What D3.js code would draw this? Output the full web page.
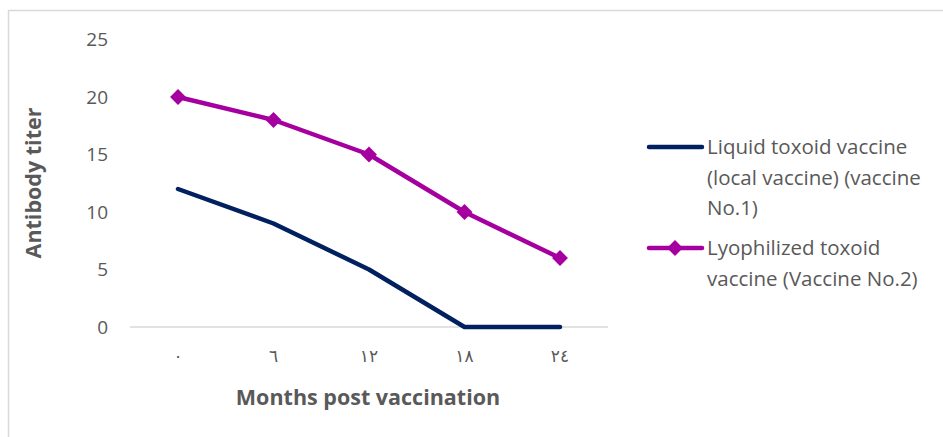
<!DOCTYPE html>
<html><head><meta charset="utf-8">
<script src="https://cdn.jsdelivr.net/npm/d3@7"></script>
<style>
body{margin:0;background:#fff;}
svg{display:block;font-family:"Open Sans","DejaVu Sans",sans-serif;}
</style></head>
<body><svg id="c" width="943" height="437"></svg>
<script>
const categories = ["٠","٦","١٢","١٨","٢٤"];
const liquidValues = [12, 9, 5, 0, 0];
const lyophilizedValues = [20, 18, 15, 10, 6];
const yTicks = [0, 5, 10, 15, 20, 25];
const seriesNames = [
  ["Liquid toxoid vaccine", "(local vaccine) (vaccine", "No.1)"],
  ["Lyophilized toxoid", "vaccine (Vaccine No.2)"]
];
const colors = ["#002060", "#A5009F"];

const svg = d3.select("#c");
svg.append("rect").attr("x",8.5).attr("y",10.5).attr("width",960).attr("height",460)
  .attr("fill","#fff").attr("stroke","#d9d9d9").attr("stroke-width",1.5);

const x = d3.scalePoint().domain(categories).range([178, 560]);
const y = d3.scaleLinear().domain([0,25]).range([327, 39.5]);

// baseline
svg.append("line").attr("x1",130).attr("x2",608).attr("y1",y(0)).attr("y2",y(0))
  .attr("stroke","#d9d9d9").attr("stroke-width",1.5);

// y ticks
svg.append("g").selectAll("text").data(yTicks).join("text")
  .attr("x",108).attr("y",d=>y(d)).attr("dy","0.35em").attr("text-anchor","end")
  .attr("font-size",19).attr("fill","#595959").text(d=>d);

// x ticks
svg.append("g").selectAll("text").data(categories).join("text")
  .attr("x",d=>x(d)).attr("y",356).attr("dy","0.35em").attr("text-anchor","middle")
  .attr("font-size",17).attr("fill","#595959").attr("letter-spacing",3)
  .attr("font-family","'DejaVu Sans',sans-serif").text(d=>d);

// axis titles
svg.append("text").attr("x",368).attr("y",397).attr("dy","0.35em").attr("text-anchor","middle")
  .attr("font-size",21.5).attr("font-weight","bold").attr("fill","#595959").text("Months post vaccination");
svg.append("text").attr("transform","translate(33,183) rotate(-90)").attr("dy","0.35em").attr("text-anchor","middle")
  .attr("font-size",21.5).attr("font-weight","bold").attr("fill","#595959").text("Antibody titer");

const line = d3.line().x((d,i)=>x(categories[i])).y(d=>y(d));
svg.append("path").datum(liquidValues).attr("d",line).attr("fill","none")
  .attr("stroke",colors[0]).attr("stroke-width",4.5).attr("stroke-linecap","round").attr("stroke-linejoin","round");
svg.append("path").datum(lyophilizedValues).attr("d",line).attr("fill","none")
  .attr("stroke",colors[1]).attr("stroke-width",4.5).attr("stroke-linecap","round").attr("stroke-linejoin","round");
const diamond = d3.symbol().type(d3.symbolDiamond2).size(160);
svg.append("g").selectAll("path").data(lyophilizedValues).join("path")
  .attr("transform",(d,i)=>`translate(${x(categories[i])},${y(d)})`)
  .attr("d",diamond).attr("fill",colors[1]);

// legend
const legY = [147, 248];
seriesNames.forEach((lines,k)=>{
  const g = svg.append("g");
  g.append("line").attr("x1",649).attr("x2",702).attr("y1",legY[k]).attr("y2",legY[k])
    .attr("stroke",colors[k]).attr("stroke-width",4.5).attr("stroke-linecap","round");
  if(k===1) g.append("path").attr("transform",`translate(675,${legY[k]})`).attr("d",diamond).attr("fill",colors[k]);
  lines.forEach((t,j)=>{
    g.append("text").attr("x",707).attr("y",legY[k]+j*30.5).attr("dy","0.35em")
      .attr("font-size",20.5).attr("fill","#595959").text(t);
  });
});
</script></body></html>
